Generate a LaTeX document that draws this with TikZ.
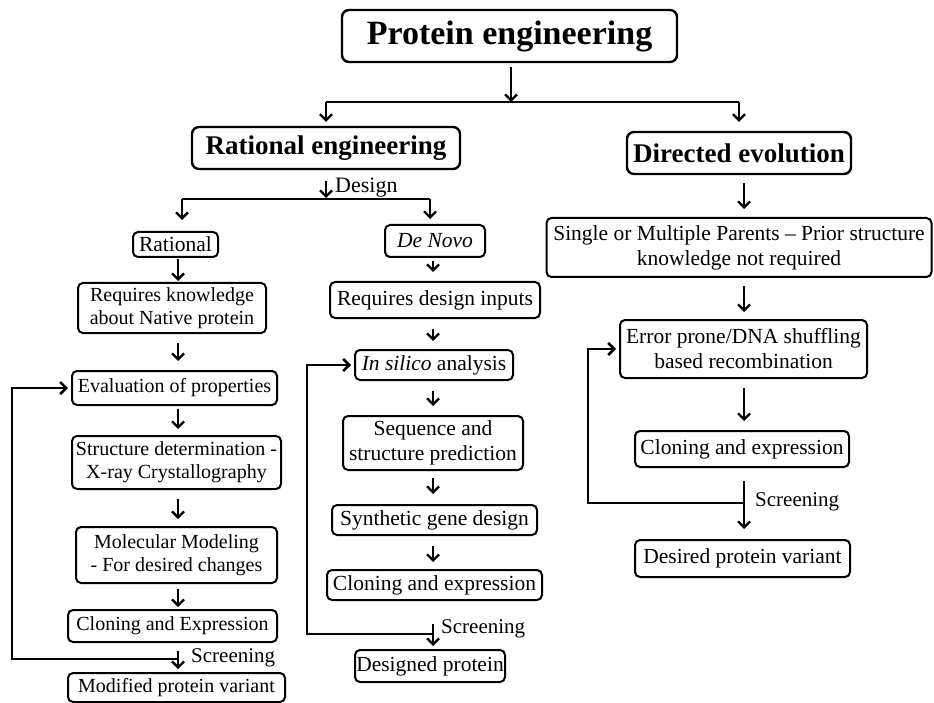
\documentclass[tikz,border=0pt]{standalone}
\usepackage{fontspec}
\setmainfont{Liberation Serif}
\usepackage{tikz}
\usetikzlibrary{arrows.meta}

\begin{document}
\begin{tikzpicture}[x=1pt, y=-1pt,
  every node/.style = {align=center, inner sep=0pt},
  box/.style = {draw, rounded corners=5pt, line width=2pt,
    font=\fontsize{21.5}{25}\selectfont},
  leftbox/.style = {box, font=\fontsize{20}{23}\selectfont},
  headbox/.style = {draw, rounded corners=7pt, line width=2.4pt,
    font=\bfseries\fontsize{27}{30}\selectfont},
  titlebox/.style = {headbox, font=\bfseries\fontsize{34}{38}\selectfont},
  tag/.style = {anchor=west, font=\fontsize{21}{24}\selectfont},
  flow/.style = {line width=2.3pt, -{Straight Barb[length=6pt,width=12pt]}},
  loop/.style = {flow, line width=2.6pt},
  bar/.style = {line width=2.3pt}]
  \useasboundingbox (0,0) rectangle (934,703);

  % top level
  \node[titlebox, minimum width=335pt, minimum height=52pt] (pe) at (509.5,36) {Protein engineering};
  \node[headbox, minimum width=268pt, minimum height=42pt] (re) at (326,148) {Rational engineering};
  \node[headbox, minimum width=224pt, minimum height=42pt] (de) at (739,153) {Directed evolution};

  % rational column
  \node[box, minimum width=85pt, minimum height=25pt] (rat) at (175.5,244.5) {Rational};
  \node[leftbox, minimum width=188pt, minimum height=50pt] (know) at (172,308) {Requires knowledge\\about Native protein};
  \node[leftbox, minimum width=205pt, minimum height=34pt] (eval) at (174.5,388) {Evaluation of properties};
  \node[leftbox, minimum width=209pt, minimum height=53pt] (struct) at (176.5,462.5) {Structure determination -\\X-ray Crystallography};
  \node[leftbox, minimum width=201pt, minimum height=56pt] (model) at (176.5,555) {Molecular Modeling\\- For desired changes};
  \node[leftbox, minimum width=209pt, minimum height=32pt] (clone1) at (172.5,626) {Cloning and Expression};
  \node[leftbox, minimum width=217pt, minimum height=29pt] (modif) at (176.5,687.5) {Modified protein variant};

  % de novo column
  \node[box, minimum width=100pt, minimum height=32pt] (novo) at (435,241) {\textit{De Novo}};
  \node[box, minimum width=210pt, minimum height=36pt] (inputs) at (435,300) {Requires design inputs};
  \node[box, minimum width=158pt, minimum height=30pt] (silico) at (434,365) {\textit{In silico} analysis};
  \node[box, minimum width=180pt, minimum height=54pt] (predict) at (433,443) {Sequence and\\structure prediction};
  \node[box, minimum width=205pt, minimum height=30pt] (gene) at (434.5,520) {Synthetic gene design};
  \node[box, minimum width=215pt, minimum height=30pt] (clone2) at (434.5,585) {Cloning and expression};
  \node[box, minimum width=150pt, minimum height=32pt] (designed) at (430,666) {Designed protein};

  % directed evolution column
  \node[box, minimum width=385pt, minimum height=59pt] (parents) at (739,247.5) {Single or Multiple Parents -- Prior structure\\knowledge not required};
  \node[box, minimum width=247pt, minimum height=58pt] (shuffle) at (743.5,349) {Error prone/DNA shuffling\\based recombination};
  \node[box, minimum width=214pt, minimum height=36pt] (clone3) at (742,449) {Cloning and expression};
  \node[box, minimum width=215pt, minimum height=37pt] (variant) at (742.5,558.5) {Desired protein variant};

  \coordinate (colA) at (178,0);
  \coordinate (colB) at (433,0);
  \coordinate (colC) at (744,0);

  % split into the two approaches
  \coordinate (split) at (511,102);
  \draw[flow, shorten <=4pt] (split |- pe.south) -- (split);
  \draw[bar] (split -| re.north) -- (split -| de.north);
  \draw[flow, shorten >=4pt] (split -| re.north) -- (re.north);
  \draw[flow, shorten >=9pt] (split -| de.north) -- (de.north);

  % design fork
  \coordinate (fork) at (326,199);
  \coordinate (forkL) at (182,199);
  \coordinate (forkR) at (430,199);
  \draw[flow, shorten <=11pt, shorten >=1pt] (re.south) -- (fork);
  \node[anchor=west, font=\fontsize{22}{24}\selectfont] (design) at (335,188) {Design};
  \draw[bar] (forkL) -- (forkR);
  \draw[flow, shorten >=11pt] (forkL) -- (forkL |- rat.north);
  \draw[flow, shorten >=5pt] (forkR) -- (forkR |- novo.north);

  % rational steps
  \draw[flow, shorten <=1pt, shorten >=1pt] (colA |- rat.south) -- (colA |- know.north);
  \draw[flow, shorten <=9pt, shorten >=9pt] (colA |- know.south) -- (colA |- eval.north);
  \draw[flow, shorten <=3pt, shorten >=6pt] (colA |- eval.south) -- (colA |- struct.north);
  \draw[flow, shorten <=9pt, shorten >=7pt] (colA |- struct.south) -- (colA |- model.north);
  \draw[flow, shorten <=5pt, shorten >=2pt] (colA |- model.south) -- (colA |- clone1.north);
  \draw[flow, shorten <=8pt, shorten >=3pt] (colA |- clone1.south) -- (colA |- modif.north);
  \node[tag] (scrA) at (191,658) {Screening};
  \coordinate (loopA) at (12,659);
  \draw[loop, shorten >=3pt] (colA |- loopA) -- (loopA) |- (eval.west);

  % de novo steps
  \draw[flow, shorten <=3pt, shorten >=9pt] (colB |- novo.south) -- (colB |- inputs.north);
  \draw[flow, shorten <=10pt, shorten >=8pt] (colB |- inputs.south) -- (colB |- silico.north);
  \draw[flow, shorten <=10pt, shorten >=9pt] (colB |- silico.south) -- (colB |- predict.north);
  \draw[flow, shorten <=7pt, shorten >=10pt] (colB |- predict.south) -- (colB |- gene.north);
  \draw[flow, shorten <=10pt, shorten >=7pt] (colB |- gene.south) -- (colB |- clone2.north);
  \draw[flow, shorten <=23pt, shorten >=3pt] (colB |- clone2.south) -- (colB |- designed.north);
  \node[tag] (scrB) at (441,629) {Screening};
  \coordinate (loopB) at (307,634);
  \draw[loop, shorten >=3pt] (colB |- loopB) -- (loopB) |- (silico.west);

  % directed evolution steps
  \draw[flow, shorten <=8pt, shorten >=8pt] (colC |- de.south) -- (colC |- parents.north);
  \draw[flow, shorten <=8pt, shorten >=7pt] (colC |- parents.south) -- (colC |- shuffle.north);
  \draw[flow, shorten <=9pt, shorten >=9pt] (colC |- shuffle.south) -- (colC |- clone3.north);
  \draw[flow, shorten <=13pt, shorten >=10pt] (colC |- clone3.south) -- (colC |- variant.north);
  \node[tag] (scrC) at (755,502) {Screening};
  \coordinate (loopC) at (588,503);
  \draw[loop, shorten >=3pt] (colC |- loopC) -- (loopC) |- (shuffle.west);
\end{tikzpicture}
\end{document}
